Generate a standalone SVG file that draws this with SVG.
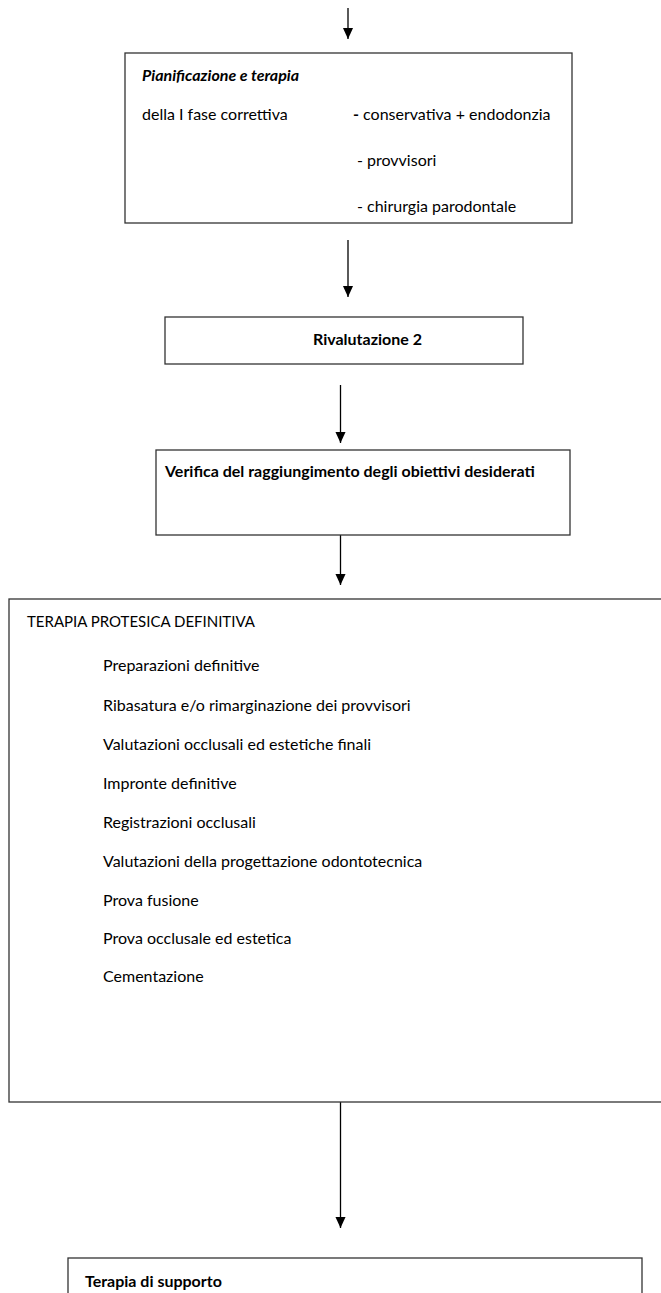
<svg xmlns="http://www.w3.org/2000/svg" width="661" height="1293" viewBox="0 0 661 1293">
<style>
.box{fill:#fff;stroke:#333;stroke-width:1.3}
.t{font-family:Lato,"Liberation Sans",sans-serif;font-size:16px;fill:#000}
.u{font-size:15px}
.b{font-weight:bold}
.bi{font-weight:bold;font-style:italic}
.conn{stroke:#000;stroke-width:1.3;fill:none}
</style>
<defs>
<marker id="arr" markerWidth="11" markerHeight="12" refX="12" refY="5.5" orient="auto" markerUnits="userSpaceOnUse" viewBox="0 0 12 11">
<path d="M0,0 L12,5.5 L0,11 Z" fill="#000"/>
</marker>
</defs>
<g id="connectors">
<line class="conn" x1="348" y1="8" x2="348" y2="39" marker-end="url(#arr)"/>
<line class="conn" x1="348" y1="240" x2="348" y2="297" marker-end="url(#arr)"/>
<line class="conn" x1="340.5" y1="385" x2="340.5" y2="443" marker-end="url(#arr)"/>
<line class="conn" x1="340.5" y1="527" x2="340.5" y2="585" marker-end="url(#arr)"/>
<line class="conn" x1="340.5" y1="1102" x2="340.5" y2="1228" marker-end="url(#arr)"/>
</g>
<g id="node-pianificazione">
<rect class="box" x="125" y="53" width="447" height="170"/>
<text class="t bi" x="142" y="81">Pianificazione e terapia</text>
<text class="t" x="142" y="120">della I fase correttiva</text>
<text class="t" x="353" y="120"><tspan class="b">-</tspan> conservativa + endodonzia</text>
<text class="t" x="357" y="166">- provvisori</text>
<text class="t" x="357" y="212">- chirurgia parodontale</text>
</g>
<g id="node-rivalutazione">
<rect class="box" x="165" y="317" width="358" height="47"/>
<text class="t b" x="313" y="345">Rivalutazione 2</text>
</g>
<g id="node-verifica">
<rect class="box" x="156" y="450" width="414" height="85"/>
<text class="t b" x="165" y="477">Verifica del raggiungimento degli obiettivi desiderati</text>
</g>
<g id="node-terapia-protesica">
<rect class="box" x="9" y="599" width="660" height="503"/>
<text class="t u" x="27" y="627">TERAPIA PROTESICA DEFINITIVA</text>
<text class="t" x="103" y="671">Preparazioni definitive</text>
<text class="t" x="103" y="711">Ribasatura e/o rimarginazione dei provvisori</text>
<text class="t" x="103" y="750">Valutazioni occlusali ed estetiche finali</text>
<text class="t" x="103" y="789">Impronte definitive</text>
<text class="t" x="103" y="828">Registrazioni occlusali</text>
<text class="t" x="103" y="867">Valutazioni della progettazione odontotecnica</text>
<text class="t" x="103" y="906">Prova fusione</text>
<text class="t" x="103" y="944">Prova occlusale ed estetica</text>
<text class="t" x="103" y="982">Cementazione</text>
</g>
<g id="node-terapia-supporto">
<rect class="box" x="68" y="1258" width="574" height="60"/>
<text class="t b" x="85" y="1287">Terapia di supporto</text>
</g>
</svg>
